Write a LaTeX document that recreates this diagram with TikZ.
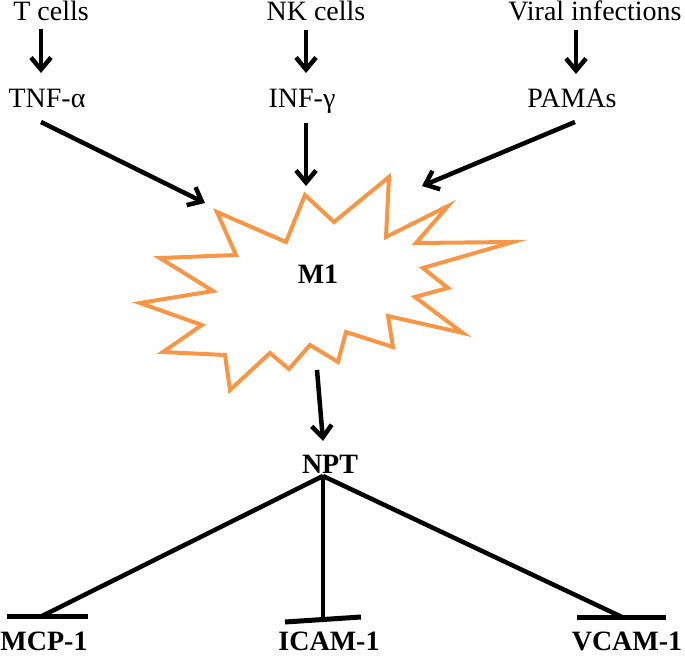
\documentclass[tikz,border=0pt]{standalone}
\usepackage{fontspec}
\setmainfont{Liberation Serif}
\usetikzlibrary{arrows.meta}
\definecolor{burst}{RGB}{247,150,70}
\begin{document}
\begin{tikzpicture}[x=1pt,y=-1pt,
  lbl/.style={inner sep=0pt, anchor=base, font=\fontsize{28}{32}\selectfont},
  blbl/.style={inner sep=0pt, anchor=base, font=\fontsize{28}{32}\selectfont\bfseries},
  arr/.style={line width=4.5pt, -{Straight Barb[length=12pt,width=20pt]}},
  link/.style={line width=4.5pt},
  barline/.style={line width=5pt},
  burstline/.style={draw=burst, fill=white, line width=4pt, line join=miter, miter limit=20},
]
\useasboundingbox (0,0) rectangle (685,658);

% text nodes
\node[lbl] (tcells) at (51,21) {T cells};
\node[lbl] (nkcells) at (316,21) {NK cells};
\node[lbl] (viral) at (595,21) {Viral infections};
\node[lbl] (tnf) at (47,108) {TNF-α};
\node[lbl] (inf) at (302,108) {INF-γ};
\node[lbl] (pamas) at (572,108) {PAMAs};

% starburst
\draw[burstline] (305,195) -- (334,222) -- (389,177) -- (386,237) -- (448,206) -- (416,243)
  -- (513,242) -- (423,268) -- (448,288) -- (415,297) -- (463,333) -- (388,316)
  -- (393,347) -- (346,332) -- (338,362) -- (310,345) -- (289,369) -- (270,353)
  -- (230,390) -- (225,355) -- (163,352) -- (202,325) -- (140,303) -- (213,291)
  -- (160,258) -- (236,255) -- (217,212) -- (286,242) -- cycle;
\node[blbl] (m1) at (318,283) {M1};

\node[blbl] (npt) at (330,473) {NPT};
\node[blbl] (mcp) at (44,650) {MCP-1};
\node[blbl] (icam) at (329,650) {ICAM-1};
\node[blbl] (vcam) at (627,650) {VCAM-1};

% connector end points
\coordinate (a1s) at (41,29);  \coordinate (a1e) at (41,73);
\coordinate (a2s) at (306,30); \coordinate (a2e) at (306,73);
\coordinate (a3s) at (576,30); \coordinate (a3e) at (576,74);
\coordinate (a4s) at (41,122); \coordinate (a4e) at (205,203);
\coordinate (a5s) at (306,123);\coordinate (a5e) at (306,186);
\coordinate (a6s) at (575,122);\coordinate (a6e) at (422,186);
\coordinate (a7s) at (317,370);\coordinate (a7e) at (323,441);
\coordinate (j) at (323,476);
\coordinate (mcpe) at (42,616);
\coordinate (icame) at (323,619);
\coordinate (vcame) at (622,617);

\draw[arr] (a1s) -- (a1e);
\draw[arr] (a2s) -- (a2e);
\draw[arr] (a3s) -- (a3e);
\draw[arr] (a4s) -- (a4e);
\draw[arr] (a5s) -- (a5e);
\draw[arr] (a6s) -- (a6e);
\draw[arr] (a7s) -- (a7e);

\draw[link] (j) -- (mcpe);
\draw[link] (j) -- (icame);
\draw[link] (j) -- (vcame);
\draw[barline] (7,616) -- (88,616);
\draw[barline] (285,622) -- (361,617);
\draw[barline] (577,617) -- (666,617);
\end{tikzpicture}
\end{document}
